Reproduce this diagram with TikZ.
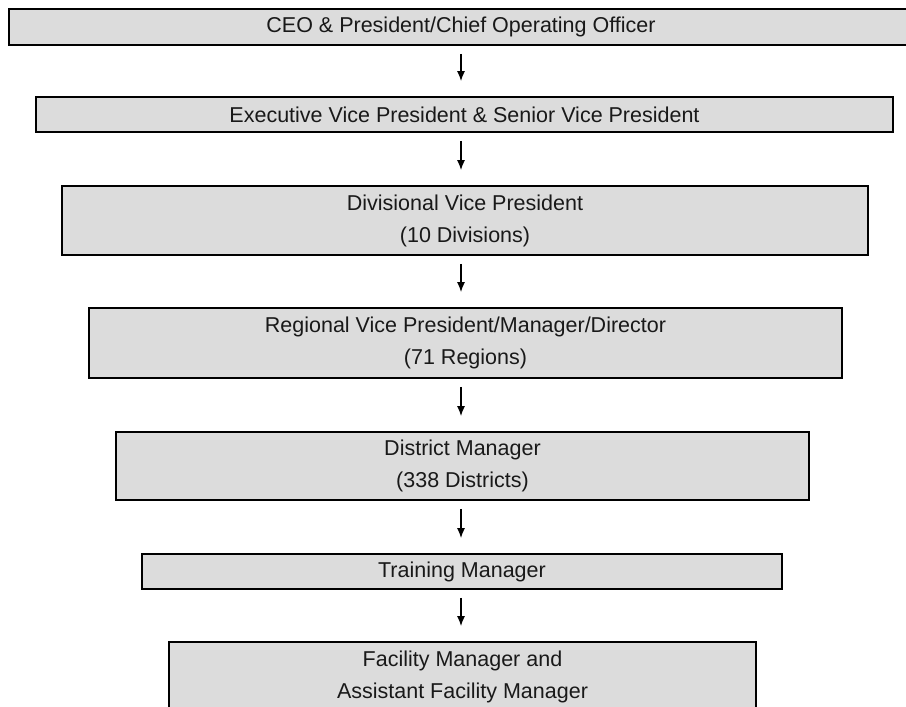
\documentclass[tikz,border=0pt]{standalone}
\usepackage{fontspec}
\setmainfont{Liberation Sans}
\usetikzlibrary{arrows.meta,calc}
\tikzset{
  box/.style={draw=black, line width=1.8pt, fill=boxgray, inner sep=0pt, align=center,
    font=\fontsize{21.5}{32}\selectfont, text=black!90},
  arr/.style={line width=1.3pt, -{Latex[length=10pt,width=8pt]}}
}
\definecolor{boxgray}{HTML}{DCDCDC}
\begin{document}
\begin{tikzpicture}[x=1pt,y=-1pt]
\useasboundingbox (0,0) rectangle (906,707);
\begin{scope}
\clip (0,0) rectangle (906,707);
\coordinate (ax) at (461,0);
\node[box, minimum width=952pt, minimum height=36pt] (b1) at (485,27) {\hspace*{-48pt}CEO \& President/Chief Operating Officer};
\node[box, minimum width=857pt, minimum height=35pt] (b2) at (464.5,114.5) {Executive Vice President \& Senior Vice President};
\node[box, minimum width=806pt, minimum height=69pt] (b3) at (465,220.5) {Divisional Vice President\\(10 Divisions)};
\node[box, minimum width=753pt, minimum height=70pt] (b4) at (465.5,343) {Regional Vice President/Manager/Director\\(71 Regions)};
\node[box, minimum width=693pt, minimum height=68pt] (b5) at (462.5,466) {District Manager\\(338 Districts)};
\node[box, minimum width=640pt, minimum height=35pt] (b6) at (462,571.5) {Training Manager};
\node[box, minimum width=587pt, minimum height=70pt] (b7) at (462.5,677) {Facility Manager and\\Assistant Facility Manager};
\foreach \a/\b in {b1/b2,b2/b3,b3/b4,b4/b5,b5/b6,b6/b7}{
  \draw[arr] ($(\a.south -| ax)+(0,8)$) -- ($(\b.north -| ax)+(0,-15)$);
}
\end{scope}
\end{tikzpicture}
\end{document}
